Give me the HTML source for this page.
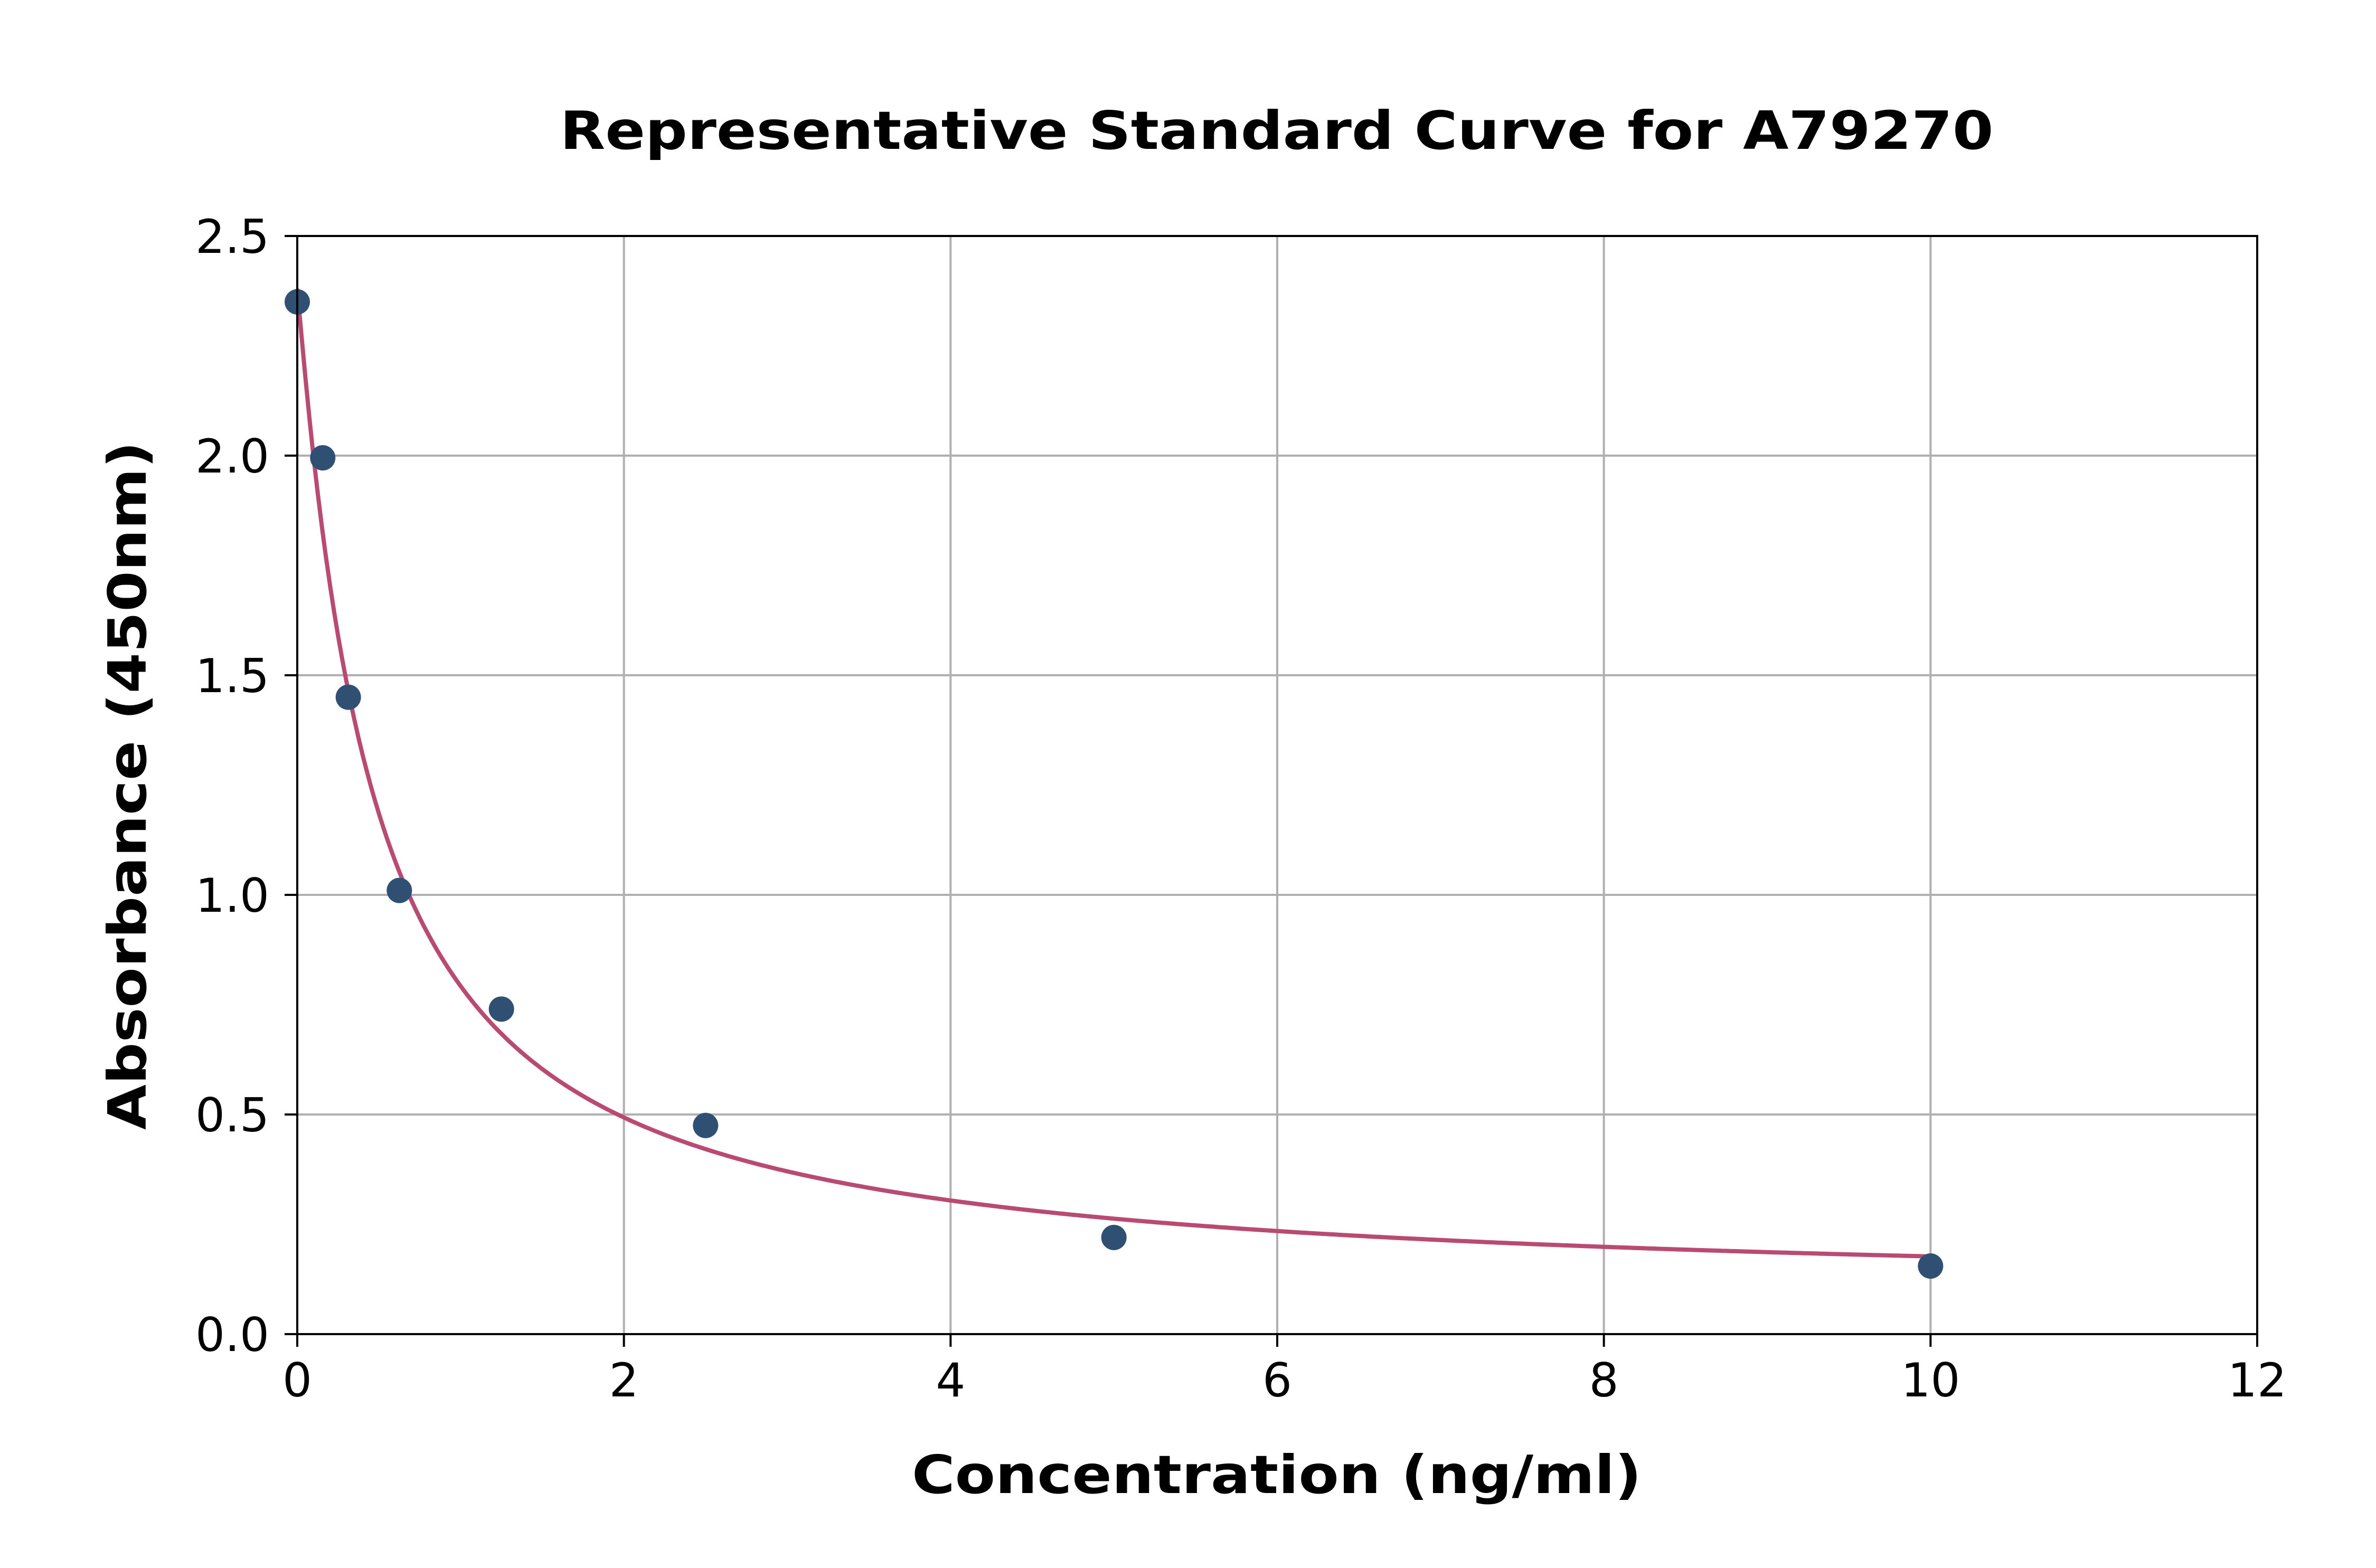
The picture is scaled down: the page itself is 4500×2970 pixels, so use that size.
<!DOCTYPE html>
<html><head><meta charset="utf-8"><style>
html,body{margin:0;padding:0;background:#fff;}
svg{display:block;font-family:"DejaVu Sans","Liberation Sans",sans-serif;}
</style></head><body>
<svg id="chart" width="4500" height="2970" viewBox="0 0 4500 2970">
<rect width="4500" height="2970" fill="#fff"/>
<g id="grid"></g>
<g id="curve"></g>
<g id="points"></g>
<rect id="frame" fill="none" stroke="#000" stroke-width="4"/>
<g id="ticks"></g>
<text x="2418" y="282" text-anchor="middle" font-weight="bold" font-size="100" textLength="2715" lengthAdjust="spacingAndGlyphs">Representative Standard Curve for A79270</text>
<text x="2418" y="2828" text-anchor="middle" font-weight="bold" font-size="100" textLength="1382" lengthAdjust="spacingAndGlyphs">Concentration (ng/ml)</text>
<text transform="translate(276,1488) rotate(-90)" text-anchor="middle" font-weight="bold" font-size="100" textLength="1304" lengthAdjust="spacingAndGlyphs">Absorbance (450nm)</text>
</svg>
<script>
const xTicks = [0, 2, 4, 6, 8, 10, 12];
const yTicks = [0, 0.5, 1.0, 1.5, 2.0, 2.5];
const xTickLabels = ["0", "2", "4", "6", "8", "10", "12"];
const yTickLabels = ["0.0", "0.5", "1.0", "1.5", "2.0", "2.5"];
const concentrations = [0, 0.156, 0.3125, 0.625, 1.25, 2.5, 5, 10];
const absorbances = [2.35, 1.995, 1.45, 1.01, 0.74, 0.475, 0.22, 0.155];
const fitParams = [2.38, 1.05, 0.46, 0.09]; // a, b, c, d (4PL)

const L = 563, R = 4275, T = 447, B = 2527;
const xMin = 0, xMax = 12, yMin = 0, yMax = 2.5;
const sx = v => L + (v - xMin) / (xMax - xMin) * (R - L);
const sy = v => B - (v - yMin) / (yMax - yMin) * (B - T);
const NS = "http://www.w3.org/2000/svg";
function mk(tag, attrs, parent) {
  const e = document.createElementNS(NS, tag);
  for (const k in attrs) e.setAttribute(k, attrs[k]);
  parent.appendChild(e);
  return e;
}
const grid = document.getElementById('grid');
const ticks = document.getElementById('ticks');
xTicks.forEach((v, i) => {
  const g = mk('line', {x1: sx(v), x2: sx(v), y1: T, y2: B, stroke: '#b0b0b0', 'stroke-width': 4}, grid);
  
  
  const t = mk('line', {x1: sx(v), x2: sx(v), y1: B, y2: B + 24, stroke: '#000', 'stroke-width': 4}, ticks);
  
  
  const l = mk('text', {x: sx(v), y: B + 118, 'text-anchor': 'middle', 'font-size': 88}, ticks);
  l.textContent = xTickLabels[i];
  
  
});
yTicks.forEach((v, i) => {
  const g = mk('line', {x1: L, x2: R, y1: sy(v), y2: sy(v), stroke: '#b0b0b0', 'stroke-width': 4}, grid);
  
  
  const t = mk('line', {x1: L - 24, x2: L, y1: sy(v), y2: sy(v), stroke: '#000', 'stroke-width': 4}, ticks);
  
  
  const l = mk('text', {x: 510, y: sy(v) + 32, 'text-anchor': 'end', 'font-size': 88}, ticks);
  l.textContent = yTickLabels[i];
  
  
});
const fr = document.getElementById('frame');
fr.setAttribute('x', L); fr.setAttribute('y', T);
fr.setAttribute('width', R - L); fr.setAttribute('height', B - T);

const [a, b, c, d] = fitParams;
const f = x => d + (a - d) / (1 + Math.pow(x / c, b));
const xEnd = concentrations[concentrations.length - 1];
let pts = [];
for (let i = 0; i <= 400; i++) {
  const x = xEnd * i / 400;
  pts.push(sx(x).toFixed(1) + ',' + sy(f(x)).toFixed(1));
}
const curve = mk('polyline', {points: pts.join(' '), fill: 'none', stroke: '#b94a72', 'stroke-width': 8}, document.getElementById('curve'));



const pg = document.getElementById('points');
concentrations.forEach((x, i) => {
  const p = mk('circle', {cx: sx(x), cy: sy(absorbances[i]), r: 24, fill: '#2f5072'}, pg);
  
  
});
</script>
</body></html>
